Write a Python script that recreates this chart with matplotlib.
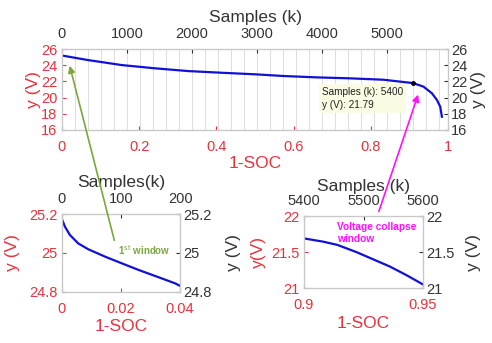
import numpy as np
import matplotlib
matplotlib.use('Agg')
import matplotlib.pyplot as plt
import matplotlib.ticker as mticker
from matplotlib.patches import FancyArrowPatch

plt.rcParams['font.family'] = ['Liberation Sans', 'DejaVu Sans']

red = '#e8323c'
grey = '#333333'
box = '#c8c8c8'
blue = '#1010d8'

# full discharge curve (samples in k, voltage)
full_samples = [0, 400, 918, 1431, 1938, 2457, 2969, 3405, 3918, 4431, 4943, 5400,
                5559, 5688, 5765, 5815, 5841]
full_volt = [25.2, 24.64, 24.02, 23.62, 23.28, 23.07, 22.88, 22.67, 22.5, 22.38, 22.21,
             21.79, 21.35, 20.53, 19.7, 18.88, 17.64]
tip_sample, tip_volt = 5400, 21.79

# first window (1-SOC, voltage)
w1_soc = [0, 0.001, 0.0027, 0.0055, 0.0089, 0.0146, 0.0202, 0.0259, 0.0315, 0.0383, 0.04]
w1_volt = [25.173, 25.135, 25.092, 25.049, 25.019, 24.981, 24.947, 24.913, 24.882,
           24.844, 24.831]

# voltage collapse window (1-SOC, voltage)
w2_soc = [0.9, 0.908, 0.914, 0.922, 0.929, 0.936, 0.943, 0.95]
w2_volt = [21.69, 21.645, 21.6, 21.5, 21.4, 21.3, 21.18, 21.05]

fmt = mticker.FuncFormatter(lambda v, p: '%g' % v)


def frame(ax, axt, axr):
    for a in (ax, axt, axr):
        for s in a.spines.values():
            s.set_color(box)
            s.set_linewidth(0.8)
    ax.tick_params(axis='both', colors=red, labelsize=10.5, direction='in', length=3)
    ax.tick_params(axis='x', pad=7)
    ax.tick_params(axis='y', pad=3.5)
    axt.tick_params(axis='x', colors=grey, labelsize=10.5, direction='in', length=3, pad=5.5)
    axr.tick_params(axis='y', colors=grey, labelsize=10.5, direction='in', length=3, pad=2)
    for a in (ax.xaxis, ax.yaxis, axt.xaxis, axr.yaxis):
        a.set_major_formatter(fmt)


def labels(ax, axt, axr, top, bottom, left, right, pos):
    # pos: top y, bottom y, left x, right x (axes fraction)
    axt.set_xlabel(top, fontsize=12.5, color=grey)
    ax.set_xlabel('1-SOC', fontsize=12.5, color=red)
    ax.set_ylabel(left, fontsize=12.5, color=red)
    axr.set_ylabel(right, fontsize=12.5, color=grey)
    axt.xaxis.set_label_coords(0.5, pos[0])
    ax.xaxis.set_label_coords(0.5, pos[1])
    ax.yaxis.set_label_coords(pos[2], 0.5)
    axr.yaxis.set_label_coords(pos[3], 0.5)
    for lab in (axt.xaxis.label, ax.xaxis.label, ax.yaxis.label, axr.yaxis.label):
        lab.set_va('center')
        lab.set_ha('center')


fig = plt.figure(figsize=(4.92, 3.43), dpi=100)

# ---- top: full curve ----
ax1 = fig.add_axes([0.126, 0.621, 0.785, 0.236])
ax1t = ax1.twiny()
ax1r = ax1.twinx()
ax1.set_xlim(0, 1)
ax1.set_ylim(16, 26)
ax1.set_xticks([0, 0.2, 0.4, 0.6, 0.8, 1])
ax1.set_yticks([16, 18, 20, 22, 24, 26])
ax1r.set_ylim(16, 26)
ax1r.set_yticks([16, 18, 20, 22, 24, 26])
ax1t.set_xlim(0, 5938)
ax1t.set_ylim(16, 26)
ax1t.set_xticks([0, 1000, 2000, 3000, 4000, 5000])
ax1t.xaxis.set_minor_locator(mticker.MultipleLocator(200))
ax1t.tick_params(axis='x', which='minor', length=0)
ax1t.grid(True, which='both', axis='x', color='#d8d8d8', linewidth=0.6)
frame(ax1, ax1t, ax1r)
ax1t.plot(full_samples, full_volt, color=blue, linewidth=1.6)
ax1t.plot([tip_sample], [tip_volt], 'o', color='black', markersize=2.5)
ax1t.text(4000, 21.35, 'Samples (k): 5400\ny (V): 21.79', fontsize=7.2, color='#222222',
          va='top', ha='left', linespacing=1.45,
          bbox=dict(boxstyle='square,pad=0.3', facecolor='#fbfbe4', edgecolor='none'))
labels(ax1, ax1t, ax1r, 'Samples (k)', '1-SOC', 'y (V)', 'y (V)',
       (1.395, -0.41, -0.075, 1.078))

# ---- bottom left: first window ----
ax2 = fig.add_axes([0.126, 0.149, 0.240, 0.227])
ax2t = ax2.twiny()
ax2r = ax2.twinx()
ax2.set_xlim(0, 0.04)
ax2.set_ylim(24.8, 25.2)
ax2.set_xticks([0, 0.02, 0.04])
ax2.set_yticks([24.8, 25, 25.2])
ax2r.set_ylim(24.8, 25.2)
ax2r.set_yticks([24.8, 25, 25.2])
ax2t.set_xlim(0, 200)
ax2t.set_xticks([0, 100, 200])
frame(ax2, ax2t, ax2r)
ax2.plot(w1_soc, w1_volt, color=blue, linewidth=1.6)
labels(ax2, ax2t, ax2r, 'Samples(k)', '1-SOC', 'y (V)', 'y (V)',
       (1.41, -0.45, -0.415, 1.45))

# ---- bottom right: voltage collapse window ----
ax3 = fig.add_axes([0.618, 0.160, 0.242, 0.210])
ax3t = ax3.twiny()
ax3r = ax3.twinx()
ax3.set_xlim(0.9, 0.95)
ax3.set_ylim(21, 22)
ax3.set_xticks([0.9, 0.95])
ax3.set_yticks([21, 21.5, 22])
ax3r.set_ylim(21, 22)
ax3r.set_yticks([21, 21.5, 22])
ax3t.set_xlim(5400, 5600)
ax3t.set_xticks([5400, 5500, 5600])
frame(ax3, ax3t, ax3r)
ax3.plot(w2_soc, w2_volt, color=blue, linewidth=1.6)
labels(ax3, ax3t, ax3r, 'Samples (k)', '1-SOC', 'y(V)', 'y (V)',
       (1.417, -0.486, -0.387, 1.42))

# ---- arrows and notes ----
H = 343
fig.text(118 / 492, 1 - 250 / H, r'1$^{\rm st}$ window', fontsize=7, color='#7aa83c',
         fontweight='bold', va='center', ha='left')
fig.add_artist(FancyArrowPatch(
    (115 / 492, 1 - 243 / H), (69 / 492, 1 - 63 / H), transform=fig.transFigure,
    arrowstyle='-|>,head_length=4,head_width=2', color='#7aa83c', linewidth=1.2))
fig.text(337 / 492, 1 - 233 / H, 'Voltage collapse\nwindow', fontsize=7.3, color='#ff10ff',
         fontweight='bold', va='center', ha='left', linespacing=1.3)
fig.add_artist(FancyArrowPatch(
    (378 / 492, 1 - 214 / H), (419 / 492, 1 - 92 / H), transform=fig.transFigure,
    arrowstyle='-|>,head_length=4,head_width=2', color='#ff10ff', linewidth=1.2))

fig.savefig('out.png', dpi=100)
